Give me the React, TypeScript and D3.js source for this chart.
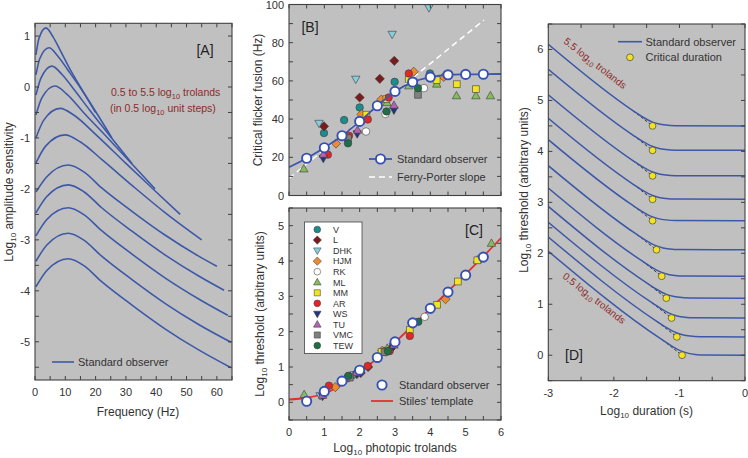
import React from 'react';
import * as d3 from 'd3';

type Pt = [number, number];

const FONT = "'Liberation Sans', Arial, Helvetica, sans-serif";
const W = 748;
const H = 458;
const PANEL_BG = '#C0C0C0';
const BORDER = '#404040';
const BLUE = '#3D58A8';
const DARKRED = '#8E2A2A';

// ---------------- Panel A: amplitude sensitivity vs frequency ----------------
const ampFreqTicks = [0, 5, 10, 15, 20, 25, 30, 35, 40, 45, 50, 55, 60, 65];
const ampFreqLabels = [0, 10, 20, 30, 40, 50, 60];
const ampSensTicks = [-5.5, -5, -4.5, -4, -3.5, -3, -2.5, -2, -1.5, -1, -0.5, 0, 0.5, 1];
const ampSensLabels = [-5, -4, -3, -2, -1, 0, 1];

const ampCurve55: Pt[] = [[0.3, 0.63], [1.3, 0.95], [3.6, 1.16], [6, 0.98], [8.5, 0.7], [12, 0.3], [16, -0.1], [20, -0.5]];
const ampCurve50: Pt[] = [[0.3, 0.24], [1.6, 0.56], [4.6, 0.77], [7.5, 0.61], [11, 0.32], [15, -0.02], [20, -0.48], [25.4, -1.0]];
const ampCurve45: Pt[] = [[0.3, -0.16], [2, 0.18], [5.6, 0.41], [9, 0.24], [13, -0.06], [18, -0.45], [25, -0.98], [32, -1.5]];
const ampCurve40: Pt[] = [[0.3, -0.55], [2.3, -0.21], [6.6, 0.02], [10.5, -0.14], [16, -0.5], [24, -1.0], [32, -1.51], [39.6, -2.0]];
const ampCurve35: Pt[] = [[0.3, -1.0], [2.9, -0.65], [8.3, -0.42], [13, -0.56], [20, -0.93], [30, -1.5], [40, -2.06], [47.9, -2.5]];
const ampCurve30: Pt[] = [[0.3, -1.49], [3.5, -1.16], [9.9, -0.94], [15, -1.08], [22, -1.42], [32, -1.93], [43, -2.47], [55, -3.0]];
const ampCurve25: Pt[] = [[0.3, -2.06], [3.9, -1.76], [11, -1.53], [16, -1.66], [22, -1.98], [32, -2.44], [43, -2.91], [54, -3.32], [60, -3.52]];
const ampCurve20: Pt[] = [[0.3, -2.47], [3.9, -2.15], [11, -1.92], [16, -2.05], [22, -2.37], [32, -2.83], [43, -3.3], [54, -3.71], [62.4, -3.99]];
const ampCurve15: Pt[] = [[0.3, -2.92], [3.9, -2.6], [11, -2.37], [16, -2.5], [22, -2.82], [32, -3.28], [43, -3.75], [54, -4.16], [63.6, -4.48]];
const ampCurve10: Pt[] = [[0.3, -3.42], [3.9, -3.1], [11, -2.87], [16, -3.0], [22, -3.32], [32, -3.78], [43, -4.25], [54, -4.66], [64.7, -5.01]];
const ampCurve05: Pt[] = [[0.3, -3.92], [3.9, -3.6], [11, -3.37], [16, -3.5], [22, -3.82], [32, -4.28], [43, -4.75], [54, -5.16], [64.7, -5.51]];
const ampCurves = [ampCurve55, ampCurve50, ampCurve45, ampCurve40, ampCurve35, ampCurve30, ampCurve25, ampCurve20, ampCurve15, ampCurve10, ampCurve05];

// ---------------- Subjects (panels B and C) ----------------
const subjectNames = ['V', 'L', 'DHK', 'HJM', 'RK', 'ML', 'MM', 'AR', 'WS', 'TU', 'VMC', 'TEW'];
const subjectColors = ['#1E8C8C', '#7B1C1C', '#86CEDC', '#EE8A2E', '#FFFFFF', '#86BC5A', '#F2E422', '#E42626', '#24347E', '#B463B4', '#808080', '#1F6E44'];
const subjectShapes = ['circle', 'diamond', 'triDown', 'diamond', 'circle', 'triUp', 'square', 'circle', 'triDown', 'triUp', 'square', 'circle'];

// ---------------- Panel B: critical flicker fusion ----------------
const tdTicks = [0, 0.5, 1, 1.5, 2, 2.5, 3, 3.5, 4, 4.5, 5, 5.5, 6];
const tdLabels = [0, 1, 2, 3, 4, 5, 6];
const cffTicks = [0, 10, 20, 30, 40, 50, 60, 70, 80, 90, 100];
const cffLabels = [0, 20, 40, 60, 80, 100];

const cffBySubject: Pt[][] = [
  [[0.99, 32.7], [1.56, 39.5], [2.0, 46.1], [2.99, 59.5], [3.99, 63.9]],
  [[0.99, 36.2], [2.0, 51.3], [2.57, 61.1], [2.98, 70.5]],
  [[0.85, 37.8], [1.89, 60.9], [2.92, 84.4], [3.96, 98.3]],
  [[1.33, 27.2], [2.05, 42.5], [2.61, 50.2], [3.53, 64.8], [4.38, 62.1]],
  [[2.18, 33.5], [2.73, 42.7], [3.82, 56.2]],
  [[0.42, 13.9], [2.77, 48.6], [3.39, 57.4], [4.18, 58.3], [4.74, 52.2], [5.29, 52.2], [5.7, 52.2]],
  [[2.19, 42.3], [2.76, 50.5], [3.39, 60.9], [4.18, 60.4], [4.75, 58.3], [5.29, 55.7]],
  [[1.1, 21.4], [1.7, 31.3], [2.23, 39.8], [2.82, 51.3], [3.39, 63.9]],
  [[0.97, 19.4], [1.93, 32.3], [2.97, 44.7]],
  [[0.97, 21.6], [1.94, 34.2], [2.97, 47.2]],
  [[1.67, 30.0], [3.65, 52.7]],
  [[1.67, 27.3], [2.76, 44.0], [3.65, 56.2]],
];
const cffStdPoints: Pt[] = [[0.5, 19.5], [1, 25], [1.5, 31.3], [2, 38.8], [2.5, 47], [3, 54.5], [3.5, 59.4], [4, 62], [4.5, 63.2], [5, 63.4], [5.5, 63.5]];
const cffStdCurve: Pt[] = [[0, 14.8], [0.5, 19.5], [1, 25], [1.5, 31.3], [2, 38.8], [2.5, 47], [3, 54.5], [3.5, 59.4], [4, 62], [4.5, 63.2], [5, 63.4], [5.5, 63.5], [6, 63.6]];
const ferryPorter: Pt[] = [[0, 9.0], [5.52, 91.9]];

// ---------------- Panel C: increment threshold ----------------
const thrTicks = [-0.5, 0, 0.5, 1, 1.5, 2, 2.5, 3, 3.5, 4, 4.5, 5, 5.5];
const thrLabels = [0, 1, 2, 3, 4, 5];
const thrBySubject: Pt[][] = [
  [[0.97, 0.21], [1.66, 0.71], [2.72, 1.45]],
  [[0.98, 0.23], [2.03, 0.83], [2.24, 1.0], [2.88, 1.52]],
  [[0.88, 0.19], [1.84, 0.78], [2.8, 1.47]],
  [[1.31, 0.43], [1.7, 0.7], [2.64, 1.46], [4.43, 2.92]],
  [[1.02, 0.26], [2.74, 1.42], [3.84, 2.42]],
  [[0.43, 0.22], [1.86, 0.8], [2.78, 1.53], [5.33, 4.03], [5.73, 4.5]],
  [[2.62, 1.43], [3.42, 2.05], [4.19, 2.76], [4.78, 3.42], [5.33, 4.02]],
  [[1.13, 0.47], [2.23, 1.03], [2.85, 1.45], [3.42, 1.88]],
  [[0.95, 0.17], [1.92, 0.79], [2.95, 1.58]],
  [[0.95, 0.2], [1.9, 0.84], [2.97, 1.62]],
  [[1.72, 0.7], [2.7, 1.42]],
  [[1.68, 0.75], [2.8, 1.45], [3.66, 2.28]],
];
const thrStdPoints: Pt[] = [[0.5, 0.03], [1, 0.31], [1.5, 0.6], [2, 0.91], [2.5, 1.27], [3, 1.71], [3.5, 2.25], [4, 2.66], [4.5, 3.12], [5, 3.6], [5.5, 4.11]];
const stilesTemplate: Pt[] = [[0, 0.08], [0.5, 0.13], [1, 0.25], [1.5, 0.5], [2, 0.84], [2.5, 1.25], [3, 1.7], [3.5, 2.17], [4, 2.65], [4.5, 3.14], [5, 3.63], [5.5, 4.13], [6, 4.65]];

// ---------------- Panel D: threshold vs duration ----------------
const durTicks = [-3, -2.5, -2, -1.5, -1, -0.5, 0];
const durLabels = [-3, -2, -1, 0];
const durThrTicks = [-0.5, 0, 0.5, 1, 1.5, 2, 2.5, 3, 3.5, 4, 4.5, 5, 5.5, 6, 6.5];
const durThrLabels = [0, 1, 2, 3, 4, 5, 6];
const durCurves: Pt[][] = [
  [[-3, 6.1], [-1.71, 4.8], [-1.56, 4.675], [-1.41, 4.575], [-1.31, 4.536], [-1.21, 4.516], [-1.06, 4.504], [0, 4.5]],
  [[-3, 5.61], [-1.71, 4.32], [-1.56, 4.195], [-1.41, 4.095], [-1.31, 4.056], [-1.21, 4.036], [-1.06, 4.024], [0, 4.02]],
  [[-3, 5.11], [-1.71, 3.82], [-1.56, 3.695], [-1.41, 3.595], [-1.31, 3.556], [-1.21, 3.536], [-1.06, 3.524], [0, 3.52]],
  [[-3, 4.65], [-1.71, 3.36], [-1.56, 3.235], [-1.41, 3.135], [-1.31, 3.096], [-1.21, 3.076], [-1.06, 3.064], [0, 3.06]],
  [[-3, 4.23], [-1.71, 2.94], [-1.56, 2.815], [-1.41, 2.715], [-1.31, 2.676], [-1.21, 2.656], [-1.06, 2.644], [0, 2.64]],
  [[-3, 3.72], [-1.65, 2.37], [-1.5, 2.245], [-1.35, 2.145], [-1.25, 2.106], [-1.15, 2.086], [-1.0, 2.074], [0, 2.07]],
  [[-3, 3.28], [-1.57, 1.85], [-1.42, 1.725], [-1.27, 1.625], [-1.17, 1.586], [-1.07, 1.566], [-0.92, 1.554], [0, 1.55]],
  [[-3, 2.92], [-1.5, 1.42], [-1.35, 1.295], [-1.2, 1.195], [-1.1, 1.156], [-1.0, 1.136], [-0.85, 1.124], [0, 1.12]],
  [[-3, 2.61], [-1.42, 1.03], [-1.27, 0.905], [-1.12, 0.805], [-1.02, 0.766], [-0.92, 0.746], [-0.77, 0.734], [0, 0.73]],
  [[-3, 2.32], [-1.34, 0.66], [-1.19, 0.535], [-1.04, 0.435], [-0.94, 0.396], [-0.84, 0.376], [-0.69, 0.364], [0, 0.36]],
  [[-3, 2.04], [-1.26, 0.3], [-1.11, 0.175], [-0.96, 0.075], [-0.86, 0.036], [-0.76, 0.016], [-0.61, 0.004], [0, 0]],
];
const criticalDurations: Pt[] = [[-1.41, 4.5], [-1.41, 4.02], [-1.41, 3.52], [-1.41, 3.06], [-1.41, 2.64], [-1.35, 2.07], [-1.27, 1.55], [-1.2, 1.12], [-1.12, 0.73], [-1.04, 0.36], [-0.96, 0]];

// ---------------- helpers ----------------
type Scale = d3.ScaleLinear<number, number>;

function markerPath(shape: string): string {
  switch (shape) {
    case 'diamond': return 'M0,-4.6L4.6,0L0,4.6L-4.6,0Z';
    case 'square': return 'M-3.4,-3.4H3.4V3.4H-3.4Z';
    case 'triUp': return 'M0,-4.4L4.2,3H-4.2Z';
    case 'triDown': return 'M0,4.4L4.2,-3H-4.2Z';
    default: return d3.symbol().type(d3.symbolCircle).size(44)() || '';
  }
}

function Background({ xs, ys }: { xs: Scale; ys: Scale }) {
  const [xa, xb] = xs.range();
  const [yb, ya] = ys.range();
  return <rect x={xa} y={ya} width={xb - xa} height={yb - ya} fill={PANEL_BG} />;
}

function ClipDef({ id, xs, ys }: { id: string; xs: Scale; ys: Scale }) {
  const [xa, xb] = xs.range();
  const [yb, ya] = ys.range();
  return (
    <clipPath id={id}>
      <rect x={xa} y={ya} width={xb - xa} height={yb - ya} />
    </clipPath>
  );
}

function Frame({ xs, ys, xTicks, yTicks, xLabels, yLabels }: {
  xs: Scale; ys: Scale; xTicks: number[]; yTicks: number[]; xLabels: number[] | null; yLabels: number[] | null;
}) {
  const [xa, xb] = xs.range();
  const [yb, ya] = ys.range();
  const TL = 4;
  return (
    <g>
      <g stroke={BORDER} strokeWidth={1}>
        {xTicks.map((t) => (
          <g key={'xt' + t}>
            <line x1={xs(t)} x2={xs(t)} y1={yb} y2={yb - TL} />
            <line x1={xs(t)} x2={xs(t)} y1={ya} y2={ya + TL} />
          </g>
        ))}
        {yTicks.map((t) => (
          <g key={'yt' + t}>
            <line x1={xa} x2={xa + TL} y1={ys(t)} y2={ys(t)} />
            <line x1={xb} x2={xb - TL} y1={ys(t)} y2={ys(t)} />
          </g>
        ))}
      </g>
      <rect x={xa} y={ya} width={xb - xa} height={yb - ya} fill="none" stroke={BORDER} strokeWidth={1.1} />
      <g fontFamily={FONT} fontSize={11} fill="#333">
        {xLabels && xLabels.map((t) => (
          <text key={'xl' + t} x={xs(t)} y={yb + 16} textAnchor="middle">{String(t)}</text>
        ))}
        {yLabels && yLabels.map((t) => (
          <text key={'yl' + t} x={xa - 5} y={ys(t) + 4} textAnchor="end">{String(t)}</text>
        ))}
      </g>
    </g>
  );
}

function Log10({ rest, sub = 8, dy = 3 }: { rest: string; sub?: number; dy?: number }) {
  return (
    <>
      {'Log'}
      <tspan dy={dy} fontSize={sub}>10</tspan>
      <tspan dy={-dy}>{rest}</tspan>
    </>
  );
}

export default function App() {
  const xA = d3.scaleLinear().domain([0, 65]).range([35, 232]);
  const yA = d3.scaleLinear().domain([-5.75, 1.25]).range([380, 23.3]);
  const xB = d3.scaleLinear().domain([0, 6]).range([289, 501]);
  const yB = d3.scaleLinear().domain([0, 100]).range([195.5, 4.5]);
  const xC = d3.scaleLinear().domain([0, 6]).range([289, 501]);
  const yC = d3.scaleLinear().domain([-0.5, 5.5]).range([420, 208]);
  const xD = d3.scaleLinear().domain([-3, 0]).range([548.3, 745]);
  const yD = d3.scaleLinear().domain([-0.5, 6.5]).range([380.7, 24]);

  const lineA = d3.line<Pt>().x((d) => xA(d[0])).y((d) => yA(d[1])).curve(d3.curveMonotoneX);
  const lineB = d3.line<Pt>().x((d) => xB(d[0])).y((d) => yB(d[1])).curve(d3.curveMonotoneX);
  const lineC = d3.line<Pt>().x((d) => xC(d[0])).y((d) => yC(d[1])).curve(d3.curveMonotoneX);
  const lineD = d3.line<Pt>().x((d) => xD(d[0])).y((d) => yD(d[1])).curve(d3.curveMonotoneX);

  const slopeAngle = (Math.atan2(yD(-1) - yD(0), xD(1) - xD(0)) * 180) / Math.PI;

  const markers = (data: Pt[][], xs: Scale, ys: Scale) =>
    data.map((pts, si) =>
      pts.map((p, i) => (
        <path
          key={si + '-' + i}
          d={markerPath(subjectShapes[si])}
          transform={`translate(${xs(p[0])},${ys(p[1])})`}
          fill={subjectColors[si]}
          stroke="#3a3a3a"
          strokeWidth={0.6}
        />
      ))
    );

  const stdCircles = (data: Pt[], xs: Scale, ys: Scale) =>
    data.map((p, i) => (
      <circle key={'s' + i} cx={xs(p[0])} cy={ys(p[1])} r={4.6} fill="#fff" stroke="#3650B4" strokeWidth={1.9} />
    ));

  return (
    <svg width={W} height={H} style={{ position: 'absolute', left: 0, top: 0, background: '#fff' }} fontFamily={FONT}>
      <defs>
        <ClipDef id="clipA" xs={xA} ys={yA} />
        <ClipDef id="clipB" xs={xB} ys={yB} />
        <ClipDef id="clipC" xs={xC} ys={yC} />
        <ClipDef id="clipD" xs={xD} ys={yD} />
      </defs>

      {/* ---------------- Panel A ---------------- */}
      <Background xs={xA} ys={yA} />
      <g clipPath="url(#clipA)">
        {ampCurves.map((c, i) => (
          <path key={'a' + i} d={lineA(c) || ''} fill="none" stroke={BLUE} strokeWidth={1.6} />
        ))}
      </g>
      <Frame xs={xA} ys={yA} xTicks={ampFreqTicks} yTicks={ampSensTicks} xLabels={ampFreqLabels} yLabels={ampSensLabels} />
      <text x={205} y={55} fontSize={14} fill="#222" textAnchor="middle">[A]</text>
      <g fontSize={10.5} fill={DARKRED}>
        <text x={111} y={96}>
          {'0.5 to 5.5 log'}
          <tspan dy={2.5} fontSize={7.5}>10</tspan>
          <tspan dy={-2.5}>{' trolands'}</tspan>
        </text>
        <text x={110} y={112}>
          {'(in 0.5 log'}
          <tspan dy={2.5} fontSize={7.5}>10</tspan>
          <tspan dy={-2.5}>{' unit steps)'}</tspan>
        </text>
      </g>
      <line x1={52} x2={74} y1={362} y2={362} stroke={BLUE} strokeWidth={1.6} />
      <text x={78} y={366} fontSize={11} fill="#333">Standard observer</text>
      <text x={138} y={415.5} fontSize={12} fill="#333" textAnchor="middle">Frequency (Hz)</text>
      <text transform="translate(13,192) rotate(-90)" fontSize={12} fill="#333" textAnchor="middle">
        <Log10 rest=" amplitude sensitivity" />
      </text>

      {/* ---------------- Panel B ---------------- */}
      <Background xs={xB} ys={yB} />
      <g clipPath="url(#clipB)">
        <path d={lineB(ferryPorter) || ''} fill="none" stroke="#fff" strokeWidth={1.5} strokeDasharray="6,4" />
        {markers(cffBySubject, xB, yB)}
        <path d={lineB(cffStdCurve) || ''} fill="none" stroke={BLUE} strokeWidth={1.8} />
        {stdCircles(cffStdPoints, xB, yB)}
      </g>
      <Frame xs={xB} ys={yB} xTicks={tdTicks} yTicks={cffTicks} xLabels={null} yLabels={cffLabels} />
      <text x={310} y={32} fontSize={14} fill="#222" textAnchor="middle">[B]</text>
      <line x1={369} x2={392} y1={159} y2={159} stroke={BLUE} strokeWidth={1.8} />
      <circle cx={380.5} cy={159} r={4.6} fill="#fff" stroke="#3650B4" strokeWidth={1.9} />
      <text x={397} y={163} fontSize={11} fill="#333">Standard observer</text>
      <line x1={369} x2={392} y1={177} y2={177} stroke="#fff" strokeWidth={1.5} strokeDasharray="6,4" />
      <text x={397} y={181} fontSize={11} fill="#333">Ferry-Porter slope</text>
      <text transform="translate(262,100) rotate(-90)" fontSize={12} fill="#333" textAnchor="middle">
        Critical flicker fusion (Hz)
      </text>

      {/* ---------------- Panel C ---------------- */}
      <Background xs={xC} ys={yC} />
      <g clipPath="url(#clipC)">
        <path d={lineC(stilesTemplate) || ''} fill="none" stroke="#E23030" strokeWidth={1.8} />
        {markers(thrBySubject, xC, yC)}
        {stdCircles(thrStdPoints, xC, yC)}
      </g>
      <Frame xs={xC} ys={yC} xTicks={tdTicks} yTicks={thrTicks} xLabels={tdLabels} yLabels={thrLabels} />
      <text x={474} y={235} fontSize={14} fill="#222" textAnchor="middle">[C]</text>
      <rect x={304.5} y={222} width={57.5} height={131.5} fill="#fff" stroke="#444" strokeWidth={0.8} />
      {subjectNames.map((name, i) => {
        const yy = 229.5 + i * 10.55;
        return (
          <g key={'lg' + name}>
            <path d={markerPath(subjectShapes[i])} transform={`translate(317.3,${yy}) scale(0.9)`} fill={subjectColors[i]} stroke="#3a3a3a" strokeWidth={0.6} />
            <text x={333} y={yy + 3.3} fontSize={9} fill="#333">{name}</text>
          </g>
        );
      })}
      <circle cx={382} cy={385} r={4.6} fill="#fff" stroke="#3650B4" strokeWidth={1.9} />
      <text x={399} y={389} fontSize={11} fill="#333">Standard observer</text>
      <line x1={371} x2={393} y1={401} y2={401} stroke="#E23030" strokeWidth={1.8} />
      <text x={399} y={405} fontSize={11} fill="#333">Stiles' template</text>
      <text x={395} y={452} fontSize={12} fill="#333" textAnchor="middle">
        <Log10 rest=" photopic trolands" />
      </text>
      <text transform="translate(264,314) rotate(-90)" fontSize={12} fill="#333" textAnchor="middle">
        <Log10 rest=" threshold (arbitrary units)" />
      </text>

      {/* ---------------- Panel D ---------------- */}
      <Background xs={xD} ys={yD} />
      <g clipPath="url(#clipD)">
        {criticalDurations.map((p, i) => (
          <line key={'dl' + i} x1={xD(p[0] - 0.3)} y1={yD(p[1] + 0.3)} x2={xD(p[0])} y2={yD(p[1])} stroke="#222" strokeWidth={0.9} strokeDasharray="3,2" />
        ))}
        {durCurves.map((c, i) => (
          <path key={'d' + i} d={lineD(c) || ''} fill="none" stroke={BLUE} strokeWidth={1.5} />
        ))}
        {criticalDurations.map((p, i) => (
          <circle key={'dc' + i} cx={xD(p[0])} cy={yD(p[1])} r={3.4} fill="#F2E422" stroke="#444" strokeWidth={0.7} />
        ))}
      </g>
      <Frame xs={xD} ys={yD} xTicks={durTicks} yTicks={durThrTicks} xLabels={durLabels} yLabels={durThrLabels} />
      <text x={574} y={360} fontSize={14} fill="#222" textAnchor="middle">[D]</text>
      <g fontSize={10} fill={DARKRED}>
        <text transform={`translate(593,66) rotate(${slopeAngle})`} textAnchor="middle">
          {'5.5 log'}
          <tspan dy={2.5} fontSize={7}>10</tspan>
          <tspan dy={-2.5}>{' trolands'}</tspan>
        </text>
        <text transform={`translate(592,301) rotate(${slopeAngle})`} textAnchor="middle">
          {'0.5 log'}
          <tspan dy={2.5} fontSize={7}>10</tspan>
          <tspan dy={-2.5}>{' trolands'}</tspan>
        </text>
      </g>
      <line x1={618} x2={642} y1={41.7} y2={41.7} stroke={BLUE} strokeWidth={1.6} />
      <text x={645.5} y={45.5} fontSize={11} fill="#333">Standard observer</text>
      <circle cx={630} cy={57.3} r={3.4} fill="#F2E422" stroke="#444" strokeWidth={0.7} />
      <text x={645.5} y={61.2} fontSize={11} fill="#333">Critical duration</text>
      <text x={646.6} y={415} fontSize={12} fill="#333" textAnchor="middle">
        <Log10 rest=" duration (s)" />
      </text>
      <text transform="translate(528,190) rotate(-90)" fontSize={12} fill="#333" textAnchor="middle">
        <Log10 rest=" threshold (arbitrary units)" />
      </text>
    </svg>
  );
}
